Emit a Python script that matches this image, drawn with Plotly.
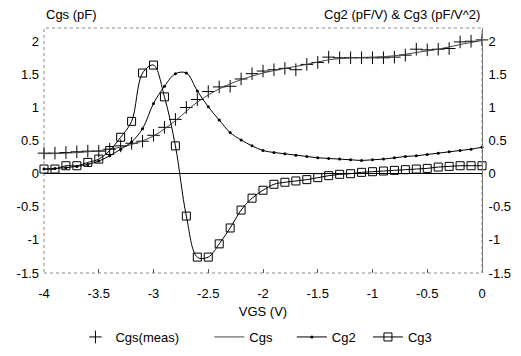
import plotly.graph_objects as go

vgs = [round(-4.0 + 0.1 * i, 1) for i in range(41)]

cgs_meas = [0.31, 0.31, 0.32, 0.33, 0.34, 0.34, 0.37, 0.42, 0.46, 0.49,
            0.58, 0.70, 0.82, 1.00, 1.12, 1.24, 1.31, 1.32, 1.43, 1.51,
            1.55, 1.57, 1.59, 1.57, 1.65, 1.68, 1.76, 1.75, 1.75, 1.75,
            1.75, 1.75, 1.76, 1.79, 1.88, 1.87, 1.88, 1.89, 1.99, 2.00, 2.02]

vgs_fit = [round(-4.0 + 0.2 * i, 1) for i in range(21)]
cgs_fit = [0.30, 0.31, 0.33, 0.37, 0.44, 0.57, 0.80, 1.08, 1.28, 1.42,
           1.52, 1.59, 1.65, 1.72, 1.75, 1.76, 1.78, 1.83, 1.88, 1.95, 2.01]

cg2 = [0.07, 0.08, 0.09, 0.11, 0.14, 0.19, 0.27, 0.37, 0.48, 0.68,
       1.06, 1.32, 1.51, 1.52, 1.25, 1.01, 0.81, 0.62, 0.51, 0.42,
       0.35, 0.32, 0.30, 0.28, 0.26, 0.24, 0.23, 0.22, 0.21, 0.20,
       0.21, 0.22, 0.24, 0.26, 0.27, 0.29, 0.31, 0.33, 0.35, 0.37, 0.40]

cg3 = [0.07, 0.07, 0.12, 0.12, 0.17, 0.22, 0.35, 0.55, 0.79, 1.52,
       1.64, 1.16, 0.42, -0.64, -1.26, -1.26, -1.06, -0.82, -0.55, -0.37,
       -0.25, -0.16, -0.13, -0.11, -0.09, -0.06, -0.03, -0.01, 0.00, 0.02,
       0.03, 0.04, 0.05, 0.06, 0.07, 0.08, 0.10, 0.11, 0.12, 0.12, 0.12]

x_ticks = [-4, -3.5, -3, -2.5, -2, -1.5, -1, -0.5, 0]
y_ticks = [2, 1.5, 1, 0.5, 0, -0.5, -1, -1.5]
y_range = [-1.5, 2.2]

FONT = "Liberation Sans, Arial, sans-serif"
FS = 13
SP = "&nbsp;"

fig = go.Figure()
fig.add_trace(go.Scatter(
    x=vgs, y=cgs_meas, mode="markers", name="Cgs(meas)" + SP * 7,
    marker=dict(symbol="cross-thin", size=9, line=dict(color="black", width=1)),
    cliponaxis=False))
fig.add_trace(go.Scatter(
    x=vgs_fit, y=cgs_fit, mode="lines", name="Cgs" + SP * 4,
    line=dict(color="#444", width=1, shape="spline")))
fig.add_trace(go.Scatter(
    x=vgs, y=cg2, mode="lines+markers", name="Cg2" + SP * 2,
    yaxis="y2",
    line=dict(color="black", width=1, shape="spline"),
    marker=dict(symbol="circle", size=3, color="black"),
    cliponaxis=False))
fig.add_trace(go.Scatter(
    x=vgs, y=cg3, mode="lines+markers", name="Cg3", yaxis="y2",
    line=dict(color="black", width=1, shape="spline"),
    marker=dict(symbol="square-open", size=8, color="black", line=dict(width=1)),
    cliponaxis=False))

fig.update_layout(
    width=513, height=356,
    margin=dict(l=36, r=39, t=20, b=88),
    paper_bgcolor="white", plot_bgcolor="white",
    font=dict(family=FONT, size=FS, color="black"),
    showlegend=True,
    legend=dict(orientation="h", x=0.485, xanchor="center", y=-0.2, yanchor="top",
                font=dict(size=FS), tracegroupgap=0),
    xaxis=dict(range=[-4, 0], tickvals=x_ticks, ticktext=[str(v) for v in x_ticks],
               ticks="inside", ticklen=4, tickcolor="#555", showgrid=False,
               zeroline=False, showline=False, ticklabelstandoff=11,
               automargin=False,
               title=dict(text="VGS (V)", standoff=6, font=dict(size=FS))),
    yaxis=dict(range=y_range, tickvals=y_ticks, ticktext=[str(v) for v in y_ticks],
               ticks="", showgrid=False, zeroline=True, zerolinecolor="black",
               zerolinewidth=1, showline=False, ticklabelstandoff=4,
               automargin=False),
    yaxis2=dict(range=y_range, tickvals=y_ticks, ticktext=[str(v) for v in y_ticks],
                overlaying="y", side="right", ticks="", showgrid=False,
                zeroline=False, showline=True, linecolor="#777", linewidth=1,
                ticklabelstandoff=3, automargin=False),
    shapes=[dict(type="rect", xref="paper", yref="paper", x0=0, x1=1, y0=0, y1=1,
                 line=dict(color="#888", width=1, dash="dot"), layer="below")],
    annotations=[
        dict(text="Cgs (pF)", xref="paper", yref="paper", x=0, y=1, xanchor="left",
             yanchor="bottom", yshift=4, showarrow=False, font=dict(size=FS)),
        dict(text="Cg2 (pF/V) & Cg3 (pF/V^2)", xref="paper", yref="paper", x=1, y=1,
             xanchor="right", yanchor="bottom", yshift=4, showarrow=False,
             font=dict(size=FS)),
    ],
)

fig.write_html("out.html")
